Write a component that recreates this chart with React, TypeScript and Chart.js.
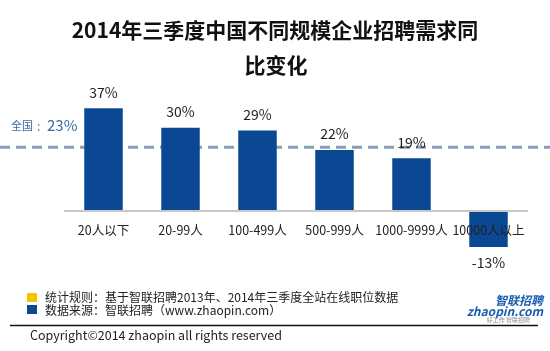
import React, { useEffect, useRef } from "react";
import { Chart, registerables } from "chart.js";
Chart.register(...registerables);

const categories = ["20人以下", "20-99人", "100-499人", "500-999人", "1000-9999人", "10000人以上"];
const growth = [37, 30, 29, 22, 19, -13];
const nationalAvg = 23;
const titleLines = ["2014年三季度中国不同规模企业招聘需求同", "比变化"];
const avgLabel = "全国";
const notes = [
  "统计规则：基于智联招聘2013年、2014年三季度全站在线职位数据",
  "数据来源：智联招聘（www.zhaopin.com）",
];
const copyright = "Copyright©2014 zhaopin all rights reserved";

const FONT = '"Noto Sans CJK SC", "Noto Sans", sans-serif';
const BAR = "#0b4894";

const overlay = {
  id: "overlay",
  beforeDatasetsDraw(chart: any) {
    const ctx = chart.ctx;
    const y = chart.scales.y.getPixelForValue(nationalAvg);
    ctx.save();
    ctx.strokeStyle = "#8a9db6";
    ctx.lineWidth = 3;
    ctx.setLineDash([10, 6]);
    ctx.beginPath();
    ctx.moveTo(0, y);
    ctx.lineTo(550, y);
    ctx.stroke();
    ctx.restore();
  },
  afterDraw(chart: any) {
    const ctx = chart.ctx;
    ctx.save();
    // title
    ctx.fillStyle = "#111";
    ctx.textAlign = "center";
    ctx.textBaseline = "middle";
    ctx.font = `bold 21px ${FONT}`;
    ctx.fillText(titleLines[0], 275, 30);
    ctx.fillText(titleLines[1], 276, 65);

    // value labels
    const meta = chart.getDatasetMeta(0);
    ctx.font = `14px ${FONT}`;
    ctx.fillStyle = "#222";
    meta.data.forEach((bar: any, i: number) => {
      const v = growth[i];
      if (v >= 0) {
        ctx.textBaseline = "bottom";
        ctx.fillText(v + "%", bar.x, bar.y - 9);
      } else {
        ctx.textBaseline = "top";
        ctx.fillText(v + "%", bar.x, bar.y + 9);
      }
    });

    // national avg label
    const ay = chart.scales.y.getPixelForValue(nationalAvg) - 22;
    ctx.textAlign = "left";
    ctx.textBaseline = "middle";
    ctx.fillStyle = "#3a6aa3";
    ctx.font = `11px ${FONT}`;
    ctx.fillText(avgLabel, 11, ay + 1);
    ctx.font = `12px ${FONT}`;
    ctx.fillText(":", 37, ay + 1);
    ctx.font = `15px ${FONT}`;
    ctx.fillText(nationalAvg + "%", 47, ay);

    // footer notes
    ctx.fillStyle = "#f5c400";
    ctx.fillRect(27, 293, 10, 9);
    ctx.fillStyle = "#0b4894";
    ctx.fillRect(27, 305, 10, 9);
    ctx.fillStyle = "#222";
    ctx.font = `12px ${FONT}`;
    ctx.fillText(notes[0], 45, 297.5);
    ctx.fillText(notes[1], 45, 310);

    ctx.strokeStyle = "#111";
    ctx.lineWidth = 1.5;
    ctx.beginPath();
    ctx.moveTo(10, 325.5);
    ctx.lineTo(538, 325.5);
    ctx.stroke();

    ctx.fillStyle = "#222";
    ctx.font = `12.5px ${FONT}`;
    ctx.fillText(copyright, 30, 335.5);

    // logo
    ctx.textAlign = "right";
    ctx.fillStyle = "#1b5db0";
    ctx.font = `italic bold 12px ${FONT}`;
    ctx.fillText("智联招聘", 543, 300);
    ctx.fillText("zhaopin.com", 543, 311);
    ctx.fillStyle = "#888";
    ctx.font = `6px ${FONT}`;
    ctx.fillText("好工作 智联招聘", 530, 320);
    ctx.restore();
  },
};

export default function App() {
  const ref = useRef<HTMLCanvasElement>(null);
  useEffect(() => {
    if (!ref.current) return;
    const chart = new Chart(ref.current, {
      type: "bar",
      data: {
        labels: categories,
        datasets: [
          {
            data: growth,
            backgroundColor: BAR,
            categoryPercentage: 1,
            barPercentage: 0.5,
            clip: false,
          } as any,
        ],
      },
      options: {
        responsive: false,
        devicePixelRatio: 1,
        animation: false,
        events: [],
        layout: { padding: { left: 65, right: 23, top: 100, bottom: 98.5 } },
        plugins: { legend: { display: false }, tooltip: { enabled: false }, title: { display: false } },
        scales: {
          x: {
            position: { y: 0 } as any,
            grid: { display: false, drawTicks: false },
            border: { display: true, color: "#c8c8c8", width: 2, z: 1 } as any,
            ticks: { z: 1, color: "#222", font: { size: 12.5, family: FONT }, padding: 12, maxRotation: 0, autoSkip: false },
          },
          y: { display: false, min: -15, max: 40 },
        },
      },
      plugins: [overlay],
    });
    return () => chart.destroy();
  }, []);
  return (
    <div style={{ position: "absolute", left: 0, top: 0, width: 550, height: 351, background: "#fff" }}>
      <canvas ref={ref} width={550} height={351} style={{ display: "block" }} />
    </div>
  );
}
